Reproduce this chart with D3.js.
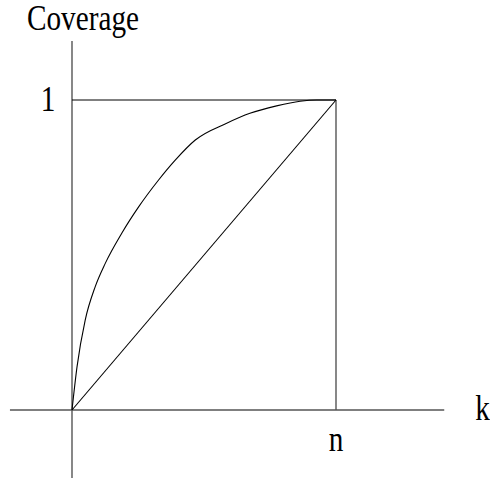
<!DOCTYPE html>
<html lang="en">
<head>
  <meta charset="utf-8" />
  <title>Coverage</title>
  <script src="https://d3js.org/d3.v7.min.js"></script>
  <style>
    body { margin: 0; background: #fff; }
    svg { display: block; }
    .lbl { font-family: "Liberation Serif", "DejaVu Serif", serif; font-size: 34px; fill: #000; }
  </style>
</head>
<body>
<svg id="chart" width="490" height="478"></svg>
<script>
// data, in units of k/n and coverage
var curveK   = [0, 0.019, 0.050, 0.088, 0.126, 0.189, 0.253, 0.328, 0.391, 0.467, 0.586, 0.674, 0.775, 0.864, 0.927, 1];
var curveCov = [0, 0.139, 0.290, 0.398, 0.473, 0.571, 0.656, 0.742, 0.806, 0.871, 0.925, 0.957, 0.981, 0.996, 1.0, 1];
var diagK    = [0, 1];
var diagCov  = [0, 1];
var xTicks   = [1];
var xLabels  = ["n"];
var yTicks   = [1];
var yLabels  = ["1"];
var xExtent  = [-0.235, 1.41];
var yExtent  = [-0.22, 1.19];

drawChart();
function drawChart(){
	var svg = d3.select("#chart");
	var x = d3.scaleLinear().domain([0, 1]).range([72, 336]);
	var y = d3.scaleLinear().domain([0, 1]).range([410, 100]);

	// axes
	svg.append("line")
		.attr("x1", x(xExtent[0])).attr("x2", x(xExtent[1]))
		.attr("y1", y(0)).attr("y2", y(0))
		.attr("stroke", "#555").attr("stroke-width", 1.6);
	svg.append("line")
		.attr("x1", x(0)).attr("x2", x(0))
		.attr("y1", y(yExtent[0])).attr("y2", y(yExtent[1]))
		.attr("stroke", "#555").attr("stroke-width", 1.4);

	// box at k = n and coverage = 1
	svg.append("line")
		.attr("x1", x(0)).attr("x2", x(xTicks[0]))
		.attr("y1", y(yTicks[0])).attr("y2", y(yTicks[0]))
		.attr("stroke", "#000").attr("stroke-width", 1);
	svg.append("line")
		.attr("x1", x(xTicks[0])).attr("x2", x(xTicks[0]))
		.attr("y1", y(0)).attr("y2", y(yTicks[0]))
		.attr("stroke", "#555").attr("stroke-width", 1.4);

	var line = d3.line()
		.x(function(d){ return x(d[0]); })
		.y(function(d){ return y(d[1]); });

	svg.append("path")
		.datum(diagK.map(function(k, i){ return [k, diagCov[i]]; }))
		.attr("d", line)
		.attr("fill", "none").attr("stroke", "#000").attr("stroke-width", 1.1);

	svg.append("path")
		.datum(curveK.map(function(k, i){ return [k, curveCov[i]]; }))
		.attr("d", line.curve(d3.curveMonotoneX))
		.attr("fill", "none").attr("stroke", "#000").attr("stroke-width", 1.1);

	// labels
	function label(px, py, anchor, txt){
		svg.append("text")
			.attr("class", "lbl")
			.attr("text-anchor", anchor)
			.attr("transform", "translate(" + px + "," + py + ") scale(0.86,1.08)")
			.text(txt);
	}
	xTicks.forEach(function(v, i){ label(x(v), y(0) + 41, "middle", xLabels[i]); });
	yTicks.forEach(function(v, i){ label(x(0) - 24, y(v) + 11, "middle", yLabels[i]); });
	label(x(xExtent[1]) + 31, y(0) + 10, "start", "k");
	label(27, 30, "start", "Coverage");
}
</script>
</body>
</html>
